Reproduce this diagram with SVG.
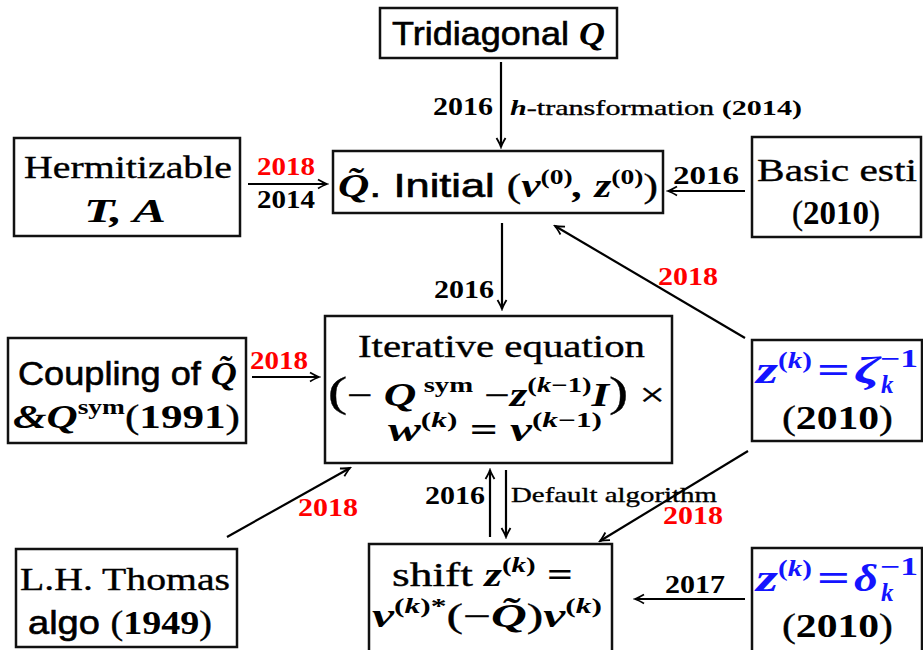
<svg xmlns="http://www.w3.org/2000/svg" width="923" height="650" viewBox="0 0 923 650">
<defs>
<style>
.box{fill:#fff;stroke:#111;stroke-width:2.5}
.rm{font-family:"Liberation Serif",serif;stroke:currentColor;stroke-width:0.35}
.bf{font-family:"Liberation Serif",serif;font-weight:bold}
.bi{font-family:"Liberation Serif",serif;font-weight:bold;font-style:italic}
.sf{font-family:"Liberation Sans",sans-serif;stroke:#000;stroke-width:0.6}
.lbl{font-family:"Liberation Serif",serif;font-weight:bold;font-size:25px}
.red{fill:#f00}
.blue{fill:#1414ff}
.con{stroke:#000;stroke-width:2.2;fill:none}
</style>
<marker id="ah" viewBox="-10 -6 12 12" refX="0" refY="0" markerWidth="12" markerHeight="12" markerUnits="userSpaceOnUse" orient="auto">
<path d="M-9,-4.5 Q-3,-1 0,0 Q-3,1 -9,4.5" fill="none" stroke="#000" stroke-width="1.8"/>
</marker>
</defs>
<rect width="923" height="650" fill="#fff"/>

<g id="connectors">
<line class="con" x1="501" y1="62" x2="501" y2="147" marker-end="url(#ah)"/>
<line class="con" x1="248" y1="184" x2="327" y2="184" marker-end="url(#ah)"/>
<line class="con" x1="745" y1="191" x2="668" y2="191" marker-end="url(#ah)"/>
<line class="con" x1="502" y1="223" x2="502" y2="309" marker-end="url(#ah)"/>
<line class="con" x1="745" y1="338" x2="555" y2="226" marker-end="url(#ah)"/>
<line class="con" x1="252" y1="377" x2="319" y2="377" marker-end="url(#ah)"/>
<line class="con" x1="227" y1="537" x2="350" y2="468" marker-end="url(#ah)"/>
<line class="con" x1="490" y1="537" x2="490" y2="470" marker-end="url(#ah)"/>
<line class="con" x1="506" y1="470" x2="506" y2="537" marker-end="url(#ah)"/>
<line class="con" x1="748" y1="451" x2="600" y2="541" marker-end="url(#ah)"/>
<line class="con" x1="745" y1="599" x2="635" y2="599" marker-end="url(#ah)"/>
<text class="lbl" x="493" y="115" text-anchor="end" textLength="60" lengthAdjust="spacingAndGlyphs">2016</text>
<text x="510" y="115" font-size="22" textLength="292" lengthAdjust="spacingAndGlyphs"><tspan class="bi">h</tspan><tspan class="rm">-transformation </tspan><tspan class="bf">(2014)</tspan></text>
<text class="lbl red" x="286" y="175" text-anchor="middle" textLength="58" lengthAdjust="spacingAndGlyphs">2018</text>
<text class="lbl" x="286" y="208" text-anchor="middle" textLength="58" lengthAdjust="spacingAndGlyphs">2014</text>
<text class="lbl" x="706" y="184" text-anchor="middle" textLength="66" lengthAdjust="spacingAndGlyphs">2016</text>
<text class="lbl" x="494" y="298" text-anchor="end" textLength="60" lengthAdjust="spacingAndGlyphs">2016</text>
<text class="lbl red" x="688" y="285" text-anchor="middle" textLength="60" lengthAdjust="spacingAndGlyphs">2018</text>
<text class="lbl red" x="279" y="369" text-anchor="middle" textLength="58" lengthAdjust="spacingAndGlyphs">2018</text>
<text class="lbl red" x="328" y="516" text-anchor="middle" textLength="60" lengthAdjust="spacingAndGlyphs">2018</text>
<text class="lbl" x="485" y="504" text-anchor="end" textLength="60" lengthAdjust="spacingAndGlyphs">2016</text>
<text class="rm" x="511" y="502" font-size="22" textLength="206" lengthAdjust="spacingAndGlyphs">Default algorithm</text>
<text class="lbl red" x="693" y="524" text-anchor="middle" textLength="60" lengthAdjust="spacingAndGlyphs">2018</text>
<text class="lbl" x="695" y="593" text-anchor="middle" textLength="60" lengthAdjust="spacingAndGlyphs">2017</text>
</g>

<g id="tridiagonal">
<rect class="box" x="380" y="8" width="237" height="50"/>
<text x="392" y="45" font-size="33" textLength="213" lengthAdjust="spacingAndGlyphs"><tspan class="sf">Tridiagonal </tspan><tspan class="bi">Q</tspan></text>
</g>

<g id="hermitizable">
<rect class="box" x="14" y="138" width="226" height="98"/>
<text class="rm" x="24" y="178" font-size="32" textLength="208" lengthAdjust="spacingAndGlyphs">Hermitizable</text>
<text class="bi" x="84" y="222" font-size="33" textLength="82" lengthAdjust="spacingAndGlyphs">T, A</text>
</g>

<g id="initial">
<rect class="box" x="333" y="151" width="330" height="62"/>
<text x="338" y="197" font-size="33" textLength="320" lengthAdjust="spacingAndGlyphs"><tspan class="bi">Q̃</tspan><tspan class="sf">. Initial </tspan><tspan class="rm">(</tspan><tspan class="bi">v</tspan><tspan class="bf" font-size="21" dy="-13">(0)</tspan><tspan class="bi" dy="13">, z</tspan><tspan class="bf" font-size="21" dy="-13">(0)</tspan><tspan class="rm" dy="13">)</tspan></text>
</g>

<g id="basic">
<rect class="box" x="752" y="137" width="169" height="100"/>
<text class="rm" x="757" y="181" font-size="32" textLength="160" lengthAdjust="spacingAndGlyphs">Basic esti</text>
<text x="792" y="224" font-size="33" textLength="88" lengthAdjust="spacingAndGlyphs"><tspan class="rm">(</tspan><tspan class="bf">2010</tspan><tspan class="rm">)</tspan></text>
</g>

<g id="coupling">
<rect class="box" x="8" y="338" width="238" height="105"/>
<text x="18" y="385" font-size="33" textLength="219" lengthAdjust="spacingAndGlyphs"><tspan class="sf">Coupling of </tspan><tspan class="bi">Q̃</tspan></text>
<text x="13" y="428" font-size="33" textLength="227" lengthAdjust="spacingAndGlyphs"><tspan class="bi">&amp;Q</tspan><tspan class="bf" font-size="21" dy="-14">sym</tspan><tspan class="rm" dy="14">(</tspan><tspan class="bf">1991</tspan><tspan class="rm">)</tspan></text>
</g>

<g id="iterative">
<rect class="box" x="325" y="316" width="347" height="147"/>
<text class="rm" x="358" y="357" font-size="32" textLength="287" lengthAdjust="spacingAndGlyphs">Iterative equation</text>
<text x="328" y="406" font-size="33" textLength="337" lengthAdjust="spacingAndGlyphs"><tspan class="rm" font-size="42">(</tspan><tspan class="rm">− </tspan><tspan class="bi">Q</tspan><tspan class="bf" font-size="21" dy="-14"> sym</tspan><tspan class="rm" dy="14"> −</tspan><tspan class="bi">z</tspan><tspan class="bf" font-size="21" dy="-14">(<tspan class="bi">k</tspan>−1)</tspan><tspan class="bi" dy="14">I</tspan><tspan class="rm" font-size="42">)</tspan><tspan class="rm"> ×</tspan></text>
<text x="388" y="441" font-size="33" textLength="214" lengthAdjust="spacingAndGlyphs"><tspan class="bi">w</tspan><tspan class="bf" font-size="21" dy="-14">(<tspan class="bi">k</tspan>)</tspan><tspan class="bf" dy="14"> = </tspan><tspan class="bi">v</tspan><tspan class="bf" font-size="21" dy="-14">(<tspan class="bi">k</tspan>−1)</tspan></text>
</g>

<g id="zeta">
<rect class="box" x="752" y="340" width="170" height="101"/>
<text class="bi blue" x="756" y="383" font-size="38" textLength="22" lengthAdjust="spacingAndGlyphs">z</text>
<text class="bf blue" x="778" y="368" font-size="24" textLength="34" lengthAdjust="spacingAndGlyphs">(<tspan class="bi">k</tspan>)</text>
<text class="bf blue" x="817" y="383" font-size="38" textLength="33" lengthAdjust="spacingAndGlyphs">=</text>
<text class="bi blue" x="854" y="383" font-size="38" textLength="26" lengthAdjust="spacingAndGlyphs">ζ</text>
<text class="bf blue" x="880" y="367" font-size="25" textLength="38" lengthAdjust="spacingAndGlyphs">−1</text>
<text class="bi blue" x="881" y="393" font-size="25">k</text>
<text x="782" y="429" font-size="34" textLength="111" lengthAdjust="spacingAndGlyphs"><tspan class="rm">(</tspan><tspan class="bf">2010</tspan><tspan class="rm">)</tspan></text>
</g>

<g id="thomas">
<rect class="box" x="16" y="549" width="221" height="98"/>
<text class="rm" x="20" y="590" font-size="32" textLength="210" lengthAdjust="spacingAndGlyphs">L.H. Thomas</text>
<text x="28" y="634" font-size="33" textLength="184" lengthAdjust="spacingAndGlyphs"><tspan class="sf">algo </tspan><tspan class="rm">(</tspan><tspan class="bf">1949</tspan><tspan class="rm">)</tspan></text>
</g>

<g id="shift">
<rect class="box" x="369" y="544" width="243" height="112"/>
<text x="392" y="586" font-size="33" textLength="181" lengthAdjust="spacingAndGlyphs"><tspan class="rm">shift </tspan><tspan class="bi">z</tspan><tspan class="bf" font-size="21" dy="-14">(<tspan class="bi">k</tspan>)</tspan><tspan class="bf" dy="14"> =</tspan></text>
<text x="372" y="627" font-size="33" textLength="230" lengthAdjust="spacingAndGlyphs"><tspan class="bi">v</tspan><tspan class="bf" font-size="21" dy="-14">(<tspan class="bi">k</tspan>)*</tspan><tspan class="rm" dy="14">(−</tspan><tspan class="bi">Q̃</tspan><tspan class="rm">)</tspan><tspan class="bi">v</tspan><tspan class="bf" font-size="21" dy="-14">(<tspan class="bi">k</tspan>)</tspan></text>
</g>

<g id="delta">
<rect class="box" x="752" y="548" width="170" height="110"/>
<text class="bi blue" x="756" y="591" font-size="38" textLength="22" lengthAdjust="spacingAndGlyphs">z</text>
<text class="bf blue" x="778" y="576" font-size="24" textLength="34" lengthAdjust="spacingAndGlyphs">(<tspan class="bi">k</tspan>)</text>
<text class="bf blue" x="817" y="591" font-size="38" textLength="33" lengthAdjust="spacingAndGlyphs">=</text>
<text class="bi blue" x="854" y="591" font-size="38" textLength="24" lengthAdjust="spacingAndGlyphs">δ</text>
<text class="bf blue" x="880" y="575" font-size="25" textLength="38" lengthAdjust="spacingAndGlyphs">−1</text>
<text class="bi blue" x="881" y="601" font-size="25">k</text>
<text x="782" y="637" font-size="34" textLength="111" lengthAdjust="spacingAndGlyphs"><tspan class="rm">(</tspan><tspan class="bf">2010</tspan><tspan class="rm">)</tspan></text>
</g>
</svg>
